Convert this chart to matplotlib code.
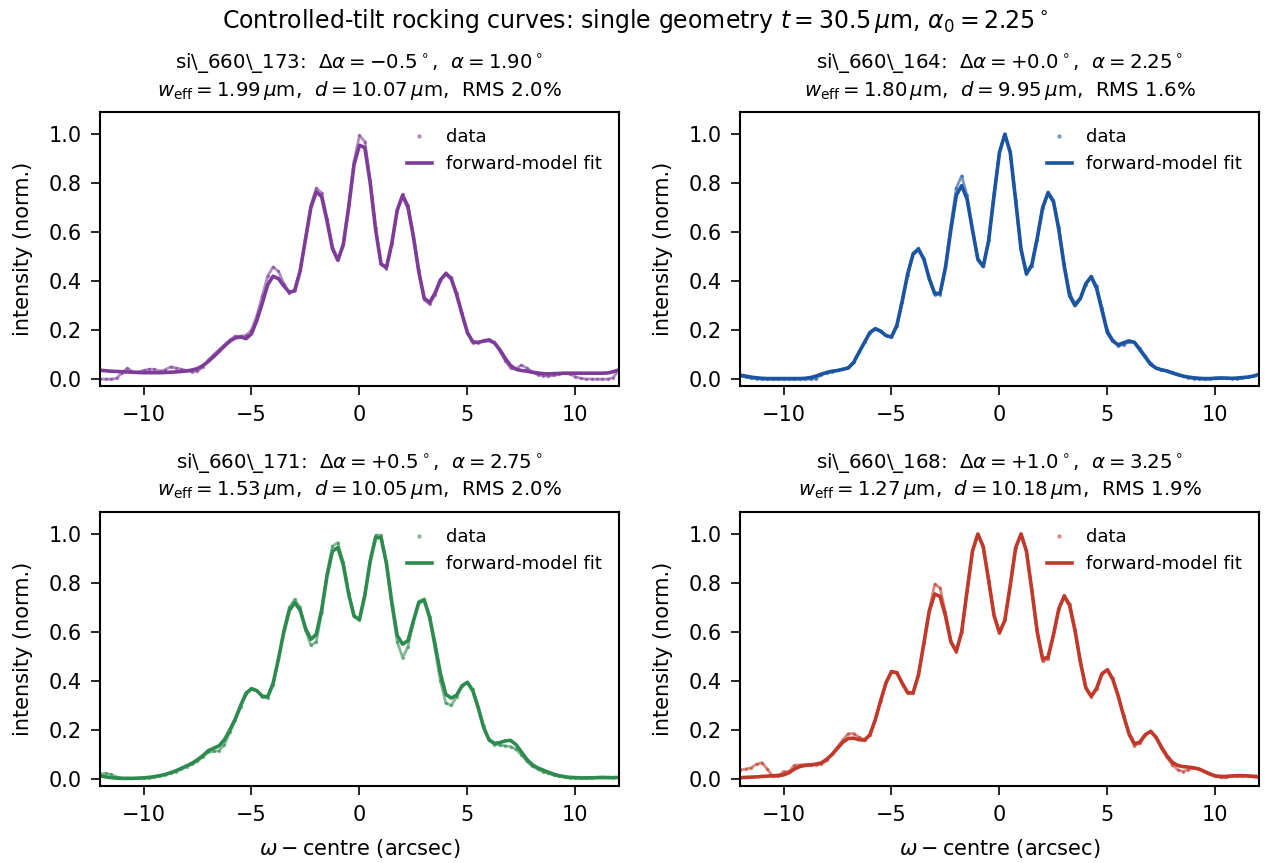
import numpy as np
import matplotlib
matplotlib.use('Agg')
import matplotlib.pyplot as plt

# omega - centre sampling grid (arcsec), step 0.25
omega = np.arange(-12, 12.001, 0.25)

# panel meta
scans = ['si\\_660\\_173', 'si\\_660\\_164', 'si\\_660\\_171', 'si\\_660\\_168']
d_alpha = ['-0.5', '+0.0', '+0.5', '+1.0']
alpha = ['1.90', '2.25', '2.75', '3.25']
w_eff = ['1.99', '1.80', '1.53', '1.27']
d_um = ['10.07', '9.95', '10.05', '10.18']
rms = ['2.0', '1.6', '2.0', '1.9']
colors = ['#7d3c98', '#1b54a0', '#2e8b4f', '#c0392b']

# normalised intensities
data_173 = [0.0, 0.0, 0.0, 0.003, 0.025, 0.044, 0.03, 0.028,
            0.035, 0.04, 0.04, 0.032, 0.038, 0.05, 0.045, 0.04,
            0.035, 0.03, 0.032, 0.05, 0.078, 0.1, 0.12, 0.14,
            0.16, 0.175, 0.175, 0.178, 0.2, 0.26, 0.34, 0.42,
            0.458, 0.44, 0.39, 0.35, 0.365, 0.445, 0.575, 0.71,
            0.78, 0.76, 0.655, 0.54, 0.49, 0.55, 0.71, 0.89,
            0.995, 0.97, 0.81, 0.615, 0.47, 0.45, 0.55, 0.69,
            0.755, 0.71, 0.59, 0.445, 0.325, 0.305, 0.345, 0.40,
            0.435, 0.415, 0.35, 0.27, 0.19, 0.148, 0.148, 0.158,
            0.162, 0.15, 0.115, 0.075, 0.045, 0.042, 0.057, 0.045,
            0.03, 0.018, 0.014, 0.012, 0.015, 0.02, 0.024, 0.02,
            0.01, 0.003, 0.0, 0.0, 0.0, 0.0, 0.0, 0.006,
            0.035]
fit_173 = [0.036, 0.034, 0.032, 0.031, 0.030, 0.029, 0.028, 0.027,
           0.026, 0.026, 0.026, 0.026, 0.027, 0.028, 0.029, 0.031,
           0.033, 0.037, 0.043, 0.055, 0.072, 0.092, 0.113, 0.135,
           0.155, 0.168, 0.172, 0.165, 0.185, 0.24, 0.31, 0.385,
           0.42, 0.41, 0.38, 0.355, 0.36, 0.44, 0.57, 0.70,
           0.765, 0.745, 0.645, 0.533, 0.485, 0.548, 0.70, 0.876,
           0.955, 0.945, 0.80, 0.61, 0.47, 0.456, 0.555, 0.69,
           0.75, 0.70, 0.58, 0.437, 0.33, 0.313, 0.351, 0.405,
           0.43, 0.41, 0.345, 0.265, 0.19, 0.152, 0.15, 0.155,
           0.158, 0.148, 0.12, 0.085, 0.055, 0.04, 0.035, 0.032,
           0.028, 0.025, 0.022, 0.021, 0.022, 0.023, 0.024, 0.024,
           0.024, 0.024, 0.024, 0.024, 0.024, 0.024, 0.025, 0.03,
           0.037]

data_164 = [0.012, 0.008, 0.004, 0.002, 0.0, 0.0, 0.0, 0.0,
            0.0, 0.0, 0.0, 0.0, 0.0, 0.0, 0.002, 0.018,
            0.025, 0.03, 0.035, 0.04, 0.048, 0.07, 0.11, 0.15,
            0.19, 0.208, 0.198, 0.178, 0.17, 0.215, 0.315, 0.425,
            0.515, 0.535, 0.49, 0.41, 0.345, 0.345, 0.46, 0.63,
            0.78, 0.83, 0.75, 0.61, 0.485, 0.46, 0.57, 0.76,
            0.93, 1.0, 0.93, 0.73, 0.525, 0.43, 0.46, 0.57,
            0.70, 0.765, 0.73, 0.62, 0.47, 0.35, 0.31, 0.33,
            0.385, 0.42, 0.38, 0.29, 0.20, 0.16, 0.135, 0.14,
            0.152, 0.15, 0.125, 0.095, 0.065, 0.045, 0.038, 0.034,
            0.028, 0.02, 0.012, 0.006, 0.002, 0.0, 0.0, 0.0,
            0.005, 0.006, 0.003, 0.002, 0.002, 0.004, 0.008, 0.012,
            0.02]
fit_164 = [0.016, 0.012, 0.008, 0.005, 0.003, 0.002, 0.002, 0.002,
           0.002, 0.002, 0.002, 0.002, 0.003, 0.006, 0.012, 0.02,
           0.027, 0.032, 0.035, 0.04, 0.045, 0.068, 0.11, 0.15,
           0.19, 0.205, 0.195, 0.177, 0.172, 0.22, 0.32, 0.43,
           0.51, 0.53, 0.49, 0.41, 0.35, 0.35, 0.455, 0.61,
           0.75, 0.79, 0.735, 0.61, 0.49, 0.46, 0.565, 0.75,
           0.925, 1.0, 0.925, 0.73, 0.53, 0.43, 0.467, 0.576,
           0.70, 0.76, 0.725, 0.61, 0.46, 0.34, 0.30, 0.33,
           0.39, 0.418, 0.37, 0.28, 0.19, 0.155, 0.14, 0.148,
           0.156, 0.15, 0.12, 0.09, 0.06, 0.045, 0.038, 0.033,
           0.025, 0.018, 0.012, 0.008, 0.005, 0.003, 0.002, 0.002,
           0.003, 0.004, 0.004, 0.003, 0.004, 0.006, 0.008, 0.012,
           0.018]

data_171 = [0.02, 0.022, 0.018, 0.008, 0.003, 0.002, 0.002, 0.002,
            0.003, 0.005, 0.008, 0.012, 0.017, 0.023, 0.03, 0.04,
            0.05, 0.06, 0.072, 0.09, 0.11, 0.112, 0.115, 0.14,
            0.19, 0.24, 0.295, 0.345, 0.37, 0.36, 0.335, 0.33,
            0.385, 0.49, 0.61, 0.70, 0.733, 0.70, 0.61, 0.545,
            0.56, 0.68, 0.84, 0.95, 0.965, 0.885, 0.76, 0.665,
            0.65, 0.755, 0.895, 0.995, 0.995, 0.88, 0.71, 0.56,
            0.495, 0.54, 0.64, 0.725, 0.735, 0.66, 0.53, 0.40,
            0.31, 0.30, 0.335, 0.38, 0.395, 0.365, 0.295, 0.215,
            0.158, 0.14, 0.138, 0.135, 0.132, 0.12, 0.098, 0.072,
            0.052, 0.04, 0.03, 0.022, 0.015, 0.01, 0.007, 0.005,
            0.004, 0.004, 0.004, 0.005, 0.006, 0.008, 0.006, 0.005,
            0.006]
fit_171 = [0.012, 0.008, 0.005, 0.003, 0.002, 0.002, 0.002, 0.003,
           0.004, 0.006, 0.009, 0.013, 0.018, 0.025, 0.033, 0.043,
           0.053, 0.064, 0.078, 0.095, 0.115, 0.125, 0.135, 0.16,
           0.2, 0.245, 0.3, 0.35, 0.368, 0.36, 0.338, 0.335,
           0.39, 0.49, 0.60, 0.687, 0.72, 0.69, 0.615, 0.57,
           0.59, 0.69, 0.83, 0.93, 0.945, 0.875, 0.755, 0.665,
           0.65, 0.75, 0.89, 0.985, 0.985, 0.88, 0.72, 0.585,
           0.55, 0.565, 0.646, 0.72, 0.73, 0.66, 0.55, 0.43,
           0.345, 0.33, 0.342, 0.38, 0.394, 0.36, 0.29, 0.21,
           0.16, 0.145, 0.148, 0.155, 0.157, 0.14, 0.11, 0.08,
           0.058, 0.045, 0.036, 0.027, 0.019, 0.013, 0.009, 0.006,
           0.005, 0.004, 0.004, 0.004, 0.005, 0.005, 0.005, 0.005,
           0.006]

data_168 = [0.037, 0.04, 0.045, 0.06, 0.066, 0.04, 0.01, 0.01,
            0.03, 0.03, 0.055, 0.057, 0.058, 0.057, 0.058, 0.06,
            0.075, 0.102, 0.13, 0.16, 0.185, 0.185, 0.17, 0.16,
            0.178, 0.24, 0.32, 0.395, 0.44, 0.435, 0.39, 0.35,
            0.35, 0.425, 0.555, 0.69, 0.795, 0.78, 0.68, 0.56,
            0.52, 0.60, 0.767, 0.93, 1.0, 0.948, 0.81, 0.667,
            0.597, 0.648, 0.79, 0.944, 1.0, 0.93, 0.77, 0.6,
            0.48, 0.49, 0.585, 0.695, 0.75, 0.715, 0.61, 0.48,
            0.37, 0.335, 0.365, 0.43, 0.447, 0.41, 0.34, 0.26,
            0.18, 0.135, 0.145, 0.18, 0.195, 0.168, 0.125, 0.088,
            0.058, 0.038, 0.03, 0.038, 0.044, 0.04, 0.028, 0.018,
            0.01, 0.006, 0.006, 0.01, 0.012, 0.012, 0.012, 0.012,
            0.012]
fit_168 = [0.005, 0.006, 0.007, 0.008, 0.01, 0.011, 0.013, 0.014,
           0.016, 0.025, 0.04, 0.05, 0.055, 0.057, 0.06, 0.065,
           0.08, 0.1, 0.125, 0.15, 0.165, 0.166, 0.16, 0.158,
           0.18, 0.242, 0.32, 0.393, 0.438, 0.433, 0.39, 0.352,
           0.351, 0.425, 0.554, 0.685, 0.755, 0.745, 0.665, 0.56,
           0.52, 0.60, 0.767, 0.93, 1.0, 0.948, 0.81, 0.667,
           0.597, 0.648, 0.79, 0.944, 1.0, 0.93, 0.77, 0.6,
           0.49, 0.497, 0.588, 0.695, 0.746, 0.708, 0.605, 0.476,
           0.372, 0.337, 0.37, 0.43, 0.445, 0.406, 0.338, 0.257,
           0.185, 0.143, 0.15, 0.18, 0.194, 0.17, 0.13, 0.095,
           0.068, 0.055, 0.05, 0.048, 0.045, 0.04, 0.03, 0.02,
           0.012, 0.01, 0.01, 0.012, 0.013, 0.013, 0.012, 0.01,
           0.007]

data_all = [data_173, data_164, data_171, data_168]
fit_all = [fit_173, fit_164, fit_171, fit_168]

plt.rcParams['font.family'] = 'DejaVu Sans'
plt.rcParams['mathtext.fontset'] = 'dejavusans'

fig, axes = plt.subplots(2, 2, figsize=(12.7, 8.63), dpi=100)
fig.subplots_adjust(left=0.079, right=0.991, top=0.870, bottom=0.089,
                    wspace=0.235, hspace=0.458)

for i, ax in enumerate(axes.flat):
    c = colors[i]
    ax.plot(omega, data_all[i], '-', color=c, lw=2.0, alpha=0.6)
    ax.plot(omega, data_all[i], '.', color=c, ms=3, alpha=0.45, label='data')
    ax.plot(omega, fit_all[i], '-', color=c, lw=2.6, label='forward-model fit')
    ax.set_xlim(-12, 12)
    ax.set_ylim(-0.03, 1.09)
    ax.set_xticks([-10, -5, 0, 5, 10])
    ax.set_yticks([0.0, 0.2, 0.4, 0.6, 0.8, 1.0])
    ax.tick_params(labelsize=15, length=6.5, width=1.2, pad=7, direction='out')
    for s in ax.spines.values():
        s.set_linewidth(1.5)
    ax.set_ylabel('intensity (norm.)', fontsize=15, labelpad=11)
    if i >= 2:
        ax.set_xlabel(r'$\omega - \mathrm{centre}$ (arcsec)', fontsize=15, labelpad=9)
    title = (scans[i] + r':  $\Delta\alpha = ' + d_alpha[i] + r'^\circ$,  $\alpha = '
             + alpha[i] + r'^\circ$' + '\n' + r'$w_\mathrm{eff} = ' + w_eff[i]
             + r'\,\mu$m,  $d = ' + d_um[i] + r'\,\mu$m,  RMS ' + rms[i] + '%')
    ax.set_title(title, fontsize=14.2, pad=12)
    ax.legend(loc='upper right', frameon=False, fontsize=13, markerscale=1.5,
              handlelength=1.4)

fig.suptitle(r'Controlled-tilt rocking curves: single geometry $t = 30.5\,\mu$m, $\alpha_0 = 2.25^\circ$',
             fontsize=17, y=0.992)

fig.savefig('out.png', dpi=100)
